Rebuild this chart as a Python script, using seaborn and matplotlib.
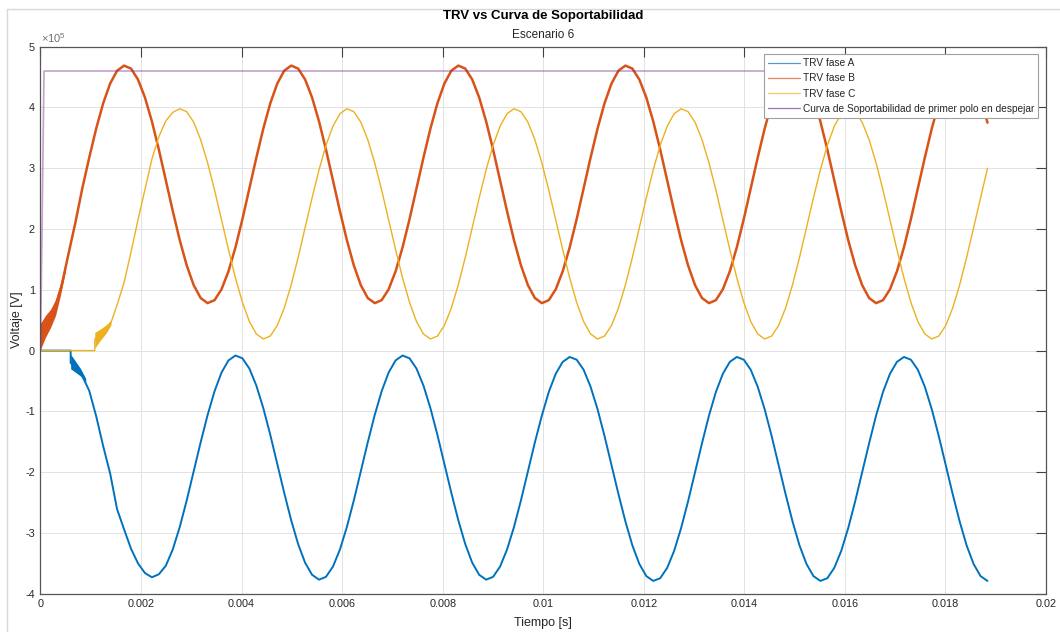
import numpy as np
import matplotlib
matplotlib.use("Agg")
import matplotlib.pyplot as plt
import seaborn as sns
from matplotlib.ticker import MultipleLocator, FuncFormatter
from matplotlib.lines import Line2D

sns.set_theme(style="white")
plt.rcParams["font.family"] = ["Liberation Sans", "DejaVu Sans"]
plt.rcParams["mathtext.fontset"] = "custom"
plt.rcParams["mathtext.rm"] = "Liberation Sans"
plt.rcParams["axes.unicode_minus"] = False

# sample instants of the simulation (s)
t = np.linspace(0, 0.018836, 137)

# voltages, in kV
fase_a = [0, 0, 0, 0, 0, -30, -42, -66, -108, -157, -202, -261, -294, -326, -350, -366, -373, -368, -354, -327, -290.3, -246.4, -198.9, -151.0,
          -105.9, -66.7, -36.0, -16.1, -8.1, -12.7, -29.6, -57.6, -94.7, -138.6, -186.1, -234.0, -279.1, -318.3, -349.0, -368.9, -376.9, -372.3, -355.4, -327.4, -290.3, -246.4, -198.9, -151.0,
          -105.9, -66.7, -36.0, -16.1, -8.1, -12.7, -29.6, -57.6, -94.7, -138.6, -186.1, -234.0, -279.1, -318.3, -349.0, -368.9, -376.9, -372.3, -355.4, -327.4, -290.3, -246.4, -198.9, -151.0,
          -107.0, -68.0, -38.0, -18.5, -10.5, -15.0, -31.5, -59.5, -96.5, -140.5, -188.0, -236.0, -281.0, -320.5, -351.0, -371.0, -379.0, -374.5, -357.5, -329.5, -292.0, -248.0, -200.5, -152.5,
          -107.0, -68.0, -38.0, -18.5, -10.5, -15.0, -31.5, -59.5, -96.5, -140.5, -188.0, -236.0, -281.0, -320.5, -351.0, -371.0, -379.0, -374.5, -357.5, -329.5, -292.0, -248.0, -200.5, -152.5,
          -107.0, -68.0, -38.0, -18.5, -10.5, -15.0, -31.5, -59.5, -96.5, -140.5, -188.0, -236.0, -281.0, -320.5, -351.0, -371.0, -379.0]

fase_b = [30, 45, 68, 105, 158, 210, 266.7, 317.5, 365.3, 406.8, 439.3, 460.5, 468.9, 464.0, 446.1, 416.5, 377.1, 330.7, 280.3, 229.5, 181.7, 140.2, 107.7, 86.5,
          78.1, 83.0, 100.9, 130.5, 169.9, 216.3, 266.7, 317.5, 365.3, 406.8, 439.3, 460.5, 468.9, 464.0, 446.1, 416.5, 377.1, 330.7, 280.3, 229.5, 181.7, 140.2, 107.7, 86.5,
          78.1, 83.0, 100.9, 130.5, 169.9, 216.3, 266.7, 317.5, 365.3, 406.8, 439.3, 460.5, 468.9, 464.0, 446.1, 416.5, 377.1, 330.7, 280.3, 229.5, 181.7, 140.2, 107.7, 86.5,
          78.1, 83.0, 100.9, 130.5, 169.9, 216.3, 266.7, 317.5, 365.3, 406.8, 439.3, 460.5, 468.9, 464.0, 446.1, 416.5, 377.1, 330.7, 280.3, 229.5, 181.7, 140.2, 107.7, 86.5,
          78.1, 83.0, 100.9, 130.5, 169.9, 216.3, 266.7, 317.5, 365.3, 406.8, 439.3, 460.5, 468.9, 464.0, 446.1, 416.5, 377.1, 330.7, 280.3, 229.5, 181.7, 140.2, 107.7, 86.5,
          78.1, 83.0, 100.9, 130.5, 169.9, 216.3, 266.7, 317.5, 365.3, 406.8, 439.3, 460.5, 468.9, 464.0, 446.1, 416.5, 375.0]

fase_c = [0, 0, 0, 0, 0, 0, 0, 0, 22, 30, 42, 75, 112, 162, 215, 265, 315, 352, 378, 392, 397.9, 393.1, 375.8, 347.1,
          308.9, 263.9, 215.1, 165.9, 119.5, 79.3, 47.8, 27.3, 19.1, 23.9, 41.2, 69.9, 108.1, 153.1, 201.9, 251.1, 297.5, 337.7, 369.2, 389.7, 397.9, 393.1, 375.8, 347.1,
          308.9, 263.9, 215.1, 165.9, 119.5, 79.3, 47.8, 27.3, 19.1, 23.9, 41.2, 69.9, 108.1, 153.1, 201.9, 251.1, 297.5, 337.7, 369.2, 389.7, 397.9, 393.1, 375.8, 347.1,
          308.9, 263.9, 215.1, 165.9, 119.5, 79.3, 47.8, 27.3, 19.1, 23.9, 41.2, 69.9, 108.1, 153.1, 201.9, 251.1, 297.5, 337.7, 369.2, 389.7, 397.9, 393.1, 375.8, 347.1,
          308.9, 263.9, 215.1, 165.9, 119.5, 79.3, 47.8, 27.3, 19.1, 23.9, 41.2, 69.9, 108.1, 153.1, 201.9, 251.1, 297.5, 337.7, 369.2, 389.7, 397.9, 393.1, 375.8, 347.1,
          308.9, 263.9, 215.1, 165.9, 119.5, 79.3, 47.8, 27.3, 19.1, 23.9, 41.2, 69.9, 108.1, 153.1, 201.9, 251.1, 300.0]

# switching instants (s) and first value after the step (kV)
a_on, a_jump = 0.0006, -20
c_on, c_jump = 0.00108, 18

# withstand curve
curva_t = [0, 0.00007, 0.01889]
curva_v = [0, 460, 460]

# high frequency ripple envelopes at the start (kV)
b_band_t = [0, 0.0001, 0.0002, 0.0003, 0.0004, 0.0005]
b_band_lo = [2, 22, 38, 58, 92, 132]
b_band_hi = [45, 58, 68, 84, 112, 146]
a_band_t = [0.0006, 0.0007, 0.0008, 0.0009]
a_band_lo = [-30, -36, -42, -52]
a_band_hi = [-6, -18, -30, -46]
c_band_t = [0.00108, 0.0012, 0.0013, 0.0014]
c_band_lo = [4, 18, 28, 42]
c_band_hi = [30, 36, 42, 50]

col_a, col_b, col_c, col_p = "#0072BD", "#D95319", "#EDB120", "#7E2F8E"


def with_step(tt, vv, t_on, v_on):
    i = np.searchsorted(tt, t_on)
    return np.insert(tt, i, [t_on, t_on]), np.insert(np.asarray(vv, float), i, [0, v_on])


ta, va = with_step(t, fase_a, a_on, a_jump)
tc, vc = with_step(t, fase_c, c_on, c_jump)

fig = plt.figure(figsize=(10.6, 6.32), dpi=100)
ax = fig.add_axes([0.0382, 0.0606, 0.9486, 0.8655])

sns.lineplot(x=ta, y=va * 1000, ax=ax, color=col_a, lw=1.4, label="TRV fase A",
             estimator=None, sort=False)
sns.lineplot(x=t, y=np.asarray(fase_b) * 1000, ax=ax, color=col_b, lw=1.8, label="TRV fase B",
             estimator=None, sort=False)
sns.lineplot(x=tc, y=vc * 1000, ax=ax, color=col_c, lw=1.0, label="TRV fase C",
             estimator=None, sort=False)
sns.lineplot(x=curva_t, y=np.asarray(curva_v) * 1000, ax=ax, color=col_p, lw=1.2, alpha=0.45,
             label="Curva de Soportabilidad de primer polo en despejar", estimator=None, sort=False)

ax.fill_between(b_band_t, np.asarray(b_band_lo) * 1000, np.asarray(b_band_hi) * 1000, color=col_b, lw=0)
ax.fill_between(a_band_t, np.asarray(a_band_lo) * 1000, np.asarray(a_band_hi) * 1000, color=col_a, lw=0)
ax.fill_between(c_band_t, np.asarray(c_band_lo) * 1000, np.asarray(c_band_hi) * 1000, color=col_c, lw=0)

ax.set_xlim(0, 0.02)
ax.set_ylim(-4e5, 5e5)
ax.xaxis.set_major_locator(MultipleLocator(0.002))
ax.yaxis.set_major_locator(MultipleLocator(1e5))
ax.xaxis.set_major_formatter(FuncFormatter(lambda v, p: f"{v:g}"))
ax.yaxis.set_major_formatter(FuncFormatter(lambda v, p: f"{v / 1e5:g}"))
ax.text(0.001, 1.004, r"$\times$10$^{5}$", transform=ax.transAxes, ha="left", va="bottom",
        fontsize=8, color="#707070")

ax.grid(True, color="#e2e2e2", lw=0.7)
ax.tick_params(direction="in", top=True, right=True, length=7, width=0.8,
               color="#404040", labelsize=7.8, labelcolor="#262626", pad=4)
for s in ax.spines.values():
    s.set_visible(True)
    s.set_color("#555555")
    s.set_linewidth(0.9)
ax.set_xlabel("")
ax.set_ylabel("")

leg = ax.legend(loc="upper right", fontsize=7.3, frameon=True, fancybox=False,
                edgecolor="#a0a0a0", framealpha=1, handlelength=3.15, handletextpad=0.3,
                borderaxespad=0.75, borderpad=0.4, labelspacing=0.5)
leg.get_frame().set_linewidth(0.8)
for h in leg.get_lines():
    h.set_linewidth(0.9)
    h.set_alpha(0.7)

cx = 543 / 1060
fig.text(cx, 1 - 16 / 632, "TRV vs Curva de Soportabilidad", ha="center", va="center",
         fontsize=9.5, fontweight="bold", color="#000000")
fig.text(cx, 1 - 35 / 632, "Escenario 6", ha="center", va="center", fontsize=8.5, color="#262626")
fig.text(cx, 1 - 623 / 632, "Tiempo [s]", ha="center", va="center", fontsize=9, color="#262626")
fig.text(17 / 1060, 1 - 320 / 632, "Voltaje [V]", ha="center", va="center", rotation=90,
         fontsize=9, color="#262626")

# light frame of the figure window
fig.add_artist(Line2D([7 / 1060, 7 / 1060], [0, 1 - 9 / 632], transform=fig.transFigure,
                      color="#d8d8d8", lw=1))
fig.add_artist(Line2D([7 / 1060, 1], [1 - 9 / 632, 1 - 9 / 632], transform=fig.transFigure,
                      color="#d8d8d8", lw=1))

fig.savefig("out.png", dpi=100, facecolor="white")
